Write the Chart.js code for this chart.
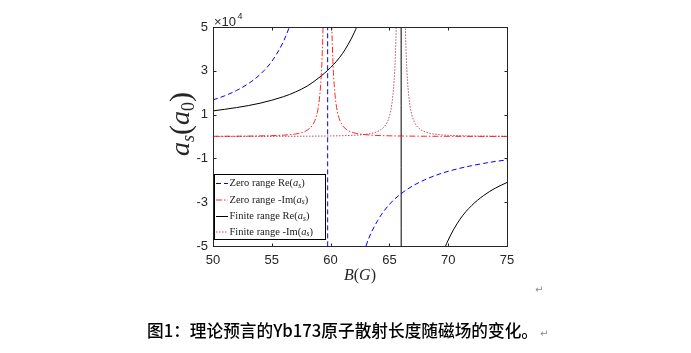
<!DOCTYPE html>
<html>
<head>
<meta charset="utf-8">
<script src="https://cdn.jsdelivr.net/npm/chart.js@4.4.1/dist/chart.umd.min.js"></script>
<style>
  html, body { margin: 0; padding: 0; background: #fff; }
  #wrap { position: relative; width: 691px; height: 353px; }
</style>
</head>
<body>
<div id="wrap"><canvas id="myChart" width="691" height="353"></canvas></div>
<script>
// tick labels (values in units of 10^4 a0)
var xTicks = [50, 55, 60, 65, 70, 75];
var yTicks = [-5, -3, -1, 1, 3, 5];

// Zero range Re(a_s) - blue dashed, pole near 59.75 G
var zeroReB   = [50, 51, 52, 53, 54, 55, 56, 56.5, 57, 58, 59, 59.74, 59.76, 60.5, 61, 62, 63, 64, 65, 66, 67, 68, 69, 70, 71, 72, 73, 74, 75];
var zeroReVal = [1.67, 1.86, 2.10, 2.41, 2.83, 3.43, 4.35, 5.02, 5.93, 9.31, 21.7, 60, -60, -21.7, -13.0, -7.24, -5.02, -3.84, -3.10, -2.61, -2.25, -1.98, -1.76, -1.59, -1.45, -1.33, -1.23, -1.14, -1.07];

// Zero range -Im(a_s) - red dash-dot peak near 59.73 G
var zeroImB   = [50, 52, 54, 55, 56, 57, 57.5, 58, 58.5, 58.8, 59.0, 59.2, 59.3, 59.4, 59.5, 59.6, 59.73, 59.86, 59.96, 60.06, 60.16, 60.26, 60.46, 60.66, 60.96, 61.46, 61.96, 62.46, 63.46, 64.46, 65.46, 67.46, 70, 75];
var zeroImVal = [0.009, 0.014, 0.026, 0.038, 0.061, 0.114, 0.171, 0.284, 0.551, 0.95, 1.51, 2.73, 3.95, 6.1, 10.2, 18.1, 28.3, 18.1, 10.2, 6.1, 3.95, 2.73, 1.51, 0.95, 0.551, 0.284, 0.171, 0.114, 0.061, 0.038, 0.026, 0.014, 0.008, 0.004];

// Finite range Re(a_s) - black solid, pole near 66 G
var finiteReB   = [50, 52, 54, 56, 57, 58, 59, 60, 61, 62, 62.5, 63, 64, 65, 65.97, 66.03, 67, 68, 69, 69.5, 70, 71, 72, 73, 74, 75];
var finiteReVal = [1.17, 1.32, 1.52, 1.82, 2.03, 2.30, 2.68, 3.15, 3.78, 4.73, 5.40, 6.30, 9.45, 18.9, 60, -60, -18.9, -9.45, -6.30, -5.40, -4.73, -3.78, -3.15, -2.70, -2.36, -2.10];

// Finite range -Im(a_s) - dotted crimson peak near 65.97 G
var finiteImB   = [50, 55, 58, 60, 62, 63, 63.5, 64, 64.5, 64.8, 65.0, 65.2, 65.4, 65.5, 65.6, 65.7, 65.8, 65.97, 66.14, 66.24, 66.34, 66.44, 66.54, 66.74, 66.94, 67.14, 67.44, 67.94, 68.44, 68.94, 69.94, 72, 75];
var finiteImVal = [0.004, 0.008, 0.014, 0.025, 0.057, 0.102, 0.147, 0.23, 0.41, 0.64, 0.93, 1.44, 2.54, 3.59, 5.39, 8.74, 15.3, 30, 15.3, 8.74, 5.39, 3.59, 2.54, 1.44, 0.93, 0.64, 0.41, 0.23, 0.147, 0.102, 0.057, 0.025, 0.011];

var seriesNames = ['Zero range Re', 'Zero range -Im', 'Finite range Re', 'Finite range -Im'];

function pts(xs, ys) {
  return xs.map(function (x, i) { return { x: x, y: ys[i] }; });
}

var serif = '"Liberation Serif", "DejaVu Serif", serif';
var sans = '"Liberation Sans", Arial, sans-serif';

// draws pieces of text: {t, it, size, dy}
function drawPieces(ctx, pieces, x, y, align) {
  var total = 0;
  pieces.forEach(function (p) {
    ctx.font = (p.it ? 'italic ' : '') + p.size + 'px ' + serif;
    p.w = ctx.measureText(p.t).width;
    total += p.w;
  });
  var cx = align === 'center' ? x - total / 2 : x;
  pieces.forEach(function (p) {
    ctx.font = (p.it ? 'italic ' : '') + p.size + 'px ' + serif;
    ctx.fillText(p.t, cx, y + (p.dy || 0));
    cx += p.w;
  });
}

var styles = [
  { color: '#0000ff', dash: [5, 3] },
  { color: 'rgba(255,0,0,0.85)', dash: [6, 2, 1.5, 2] },
  { color: '#000000', dash: [] },
  { color: 'rgba(176,32,60,0.8)', dash: [1.5, 1.5] }
];

var matlabLook = {
  id: 'matlabLook',
  afterDatasetsDraw: function (chart) {
    var ctx = chart.ctx;
    var a = chart.chartArea;
    var xs = chart.scales.x, ys = chart.scales.y;
    ctx.save();

    // box + inward ticks
    ctx.strokeStyle = '#262626';
    ctx.lineWidth = 1;
    ctx.setLineDash([]);
    var L = Math.round(a.left) + 0.5, R = Math.round(a.right) + 0.5;
    var T = Math.round(a.top) + 0.5, B = Math.round(a.bottom) + 0.5;
    ctx.strokeRect(L, T, R - L, B - T);
    ctx.beginPath();
    xTicks.forEach(function (v) {
      var px = Math.round(xs.getPixelForValue(v)) + 0.5;
      ctx.moveTo(px, B); ctx.lineTo(px, B - 3);
      ctx.moveTo(px, T); ctx.lineTo(px, T + 3);
    });
    yTicks.forEach(function (v) {
      var py = Math.round(ys.getPixelForValue(v)) + 0.5;
      ctx.moveTo(L, py); ctx.lineTo(L + 3, py);
      ctx.moveTo(R, py); ctx.lineTo(R - 3, py);
    });
    ctx.stroke();

    // legend box
    var lx = 214.5, ly = 174.5, lw = 111, lh = 65;
    ctx.fillStyle = '#fff';
    ctx.fillRect(lx, ly, lw, lh);
    ctx.strokeStyle = '#000';
    ctx.strokeRect(lx, ly, lw, lh);
    ctx.textBaseline = 'middle';
    ctx.textAlign = 'left';
    var rows = [183.5, 200, 216.5, 232];
    var tails = ['Re(', '-Im(', 'Re(', '-Im('];
    seriesNames.forEach(function (name, i) {
      var yy = rows[i];
      ctx.strokeStyle = styles[i].color;
      ctx.setLineDash(styles[i].dash);
      ctx.beginPath();
      ctx.moveTo(216, yy); ctx.lineTo(228, yy);
      ctx.stroke();
      ctx.setLineDash([]);
      ctx.fillStyle = '#1a1a1a';
      var head = name.replace(/ (Re|-Im)$/, ' ');
      drawPieces(ctx, [
        { t: head + tails[i], size: 10.5 },
        { t: 'a', it: true, size: 10.5 },
        { t: 's', it: true, size: 7.5, dy: 2.5 },
        { t: ')', size: 10.5 }
      ], 229.5, yy, 'left');
    });

    // x10^4
    ctx.fillStyle = '#262626';
    ctx.textBaseline = 'alphabetic';
    ctx.font = '13px ' + sans;
    ctx.fillText('\u00d710', 214, 26);
    ctx.font = '9px ' + sans;
    ctx.fillText('4', 237.5, 19);

    // x axis title
    ctx.fillStyle = '#262626';
    drawPieces(ctx, [
      { t: 'B', it: true, size: 16 },
      { t: '(', size: 16 },
      { t: 'G', it: true, size: 16 },
      { t: ')', size: 16 }
    ], 360, 280, 'center');

    // y axis title
    ctx.save();
    ctx.translate(189, 124);
    ctx.rotate(-Math.PI / 2);
    drawPieces(ctx, [
      { t: 'a', it: true, size: 28 },
      { t: 's', it: true, size: 18, dy: 5 },
      { t: '(', size: 30, dy: 1 },
      { t: 'a', it: true, size: 28 },
      { t: '0', size: 18, dy: 5 },
      { t: ')', size: 30, dy: 1 }
    ], 0, 0, 'center');
    ctx.restore();

    // caption
    ctx.fillStyle = '#000';
    ctx.font = '500 17px "Noto Sans CJK SC", sans-serif';
    ctx.textBaseline = 'middle';
    var cap = '图1：理论预言的Yb173原子散射长度随磁场的变化。';
    var cw = ctx.measureText(cap).width;
    ctx.save();
    ctx.translate(147, 331);
    ctx.scale(391 / cw, 1);
    ctx.fillText(cap, 0, 0);
    ctx.restore();
    ctx.fillStyle = '#8a8a8a';
    ctx.font = '10px "DejaVu Sans", sans-serif';
    ctx.fillText('\u21b5', 540, 334);
    ctx.fillText('\u21b5', 535, 290);

    ctx.restore();
  }
};

var data = {
  datasets: [
    { label: seriesNames[0], data: pts(zeroReB, zeroReVal) },
    { label: seriesNames[1], data: pts(zeroImB, zeroImVal) },
    { label: seriesNames[2], data: pts(finiteReB, finiteReVal) },
    { label: seriesNames[3], data: pts(finiteImB, finiteImVal) }
  ].map(function (d, i) {
    d.borderColor = styles[i].color;
    d.borderDash = styles[i].dash;
    d.borderWidth = 1;
    d.pointRadius = 0;
    d.fill = false;
    d.cubicInterpolationMode = 'monotone';
    return d;
  })
};

var ctx = document.getElementById('myChart').getContext('2d');
var myChart = new Chart(ctx, {
  type: 'line',
  data: data,
  options: {
    responsive: false,
    animation: false,
    layout: { padding: { left: 0, right: 184, top: 27, bottom: 67 } },
    plugins: { legend: { display: false }, tooltip: { enabled: false } },
    scales: {
      x: {
        type: 'linear', min: 50, max: 75,
        afterFit: function (s) { s.height = 40; },
        afterBuildTicks: function (s) { s.ticks = xTicks.map(function (v) { return { value: v }; }); },
        grid: { display: false, drawTicks: false },
        border: { display: false },
        ticks: { color: '#262626', font: { family: sans, size: 13 }, padding: 7, maxRotation: 0 }
      },
      y: {
        type: 'linear', min: -5, max: 5,
        afterFit: function (s) { s.width = 213; },
        afterBuildTicks: function (s) { s.ticks = yTicks.map(function (v) { return { value: v }; }); },
        grid: { display: false, drawTicks: false },
        border: { display: false },
        ticks: { color: '#262626', font: { family: sans, size: 13 }, padding: 5 }
      }
    }
  },
  plugins: [matlabLook]
});
</script>
</body>
</html>
